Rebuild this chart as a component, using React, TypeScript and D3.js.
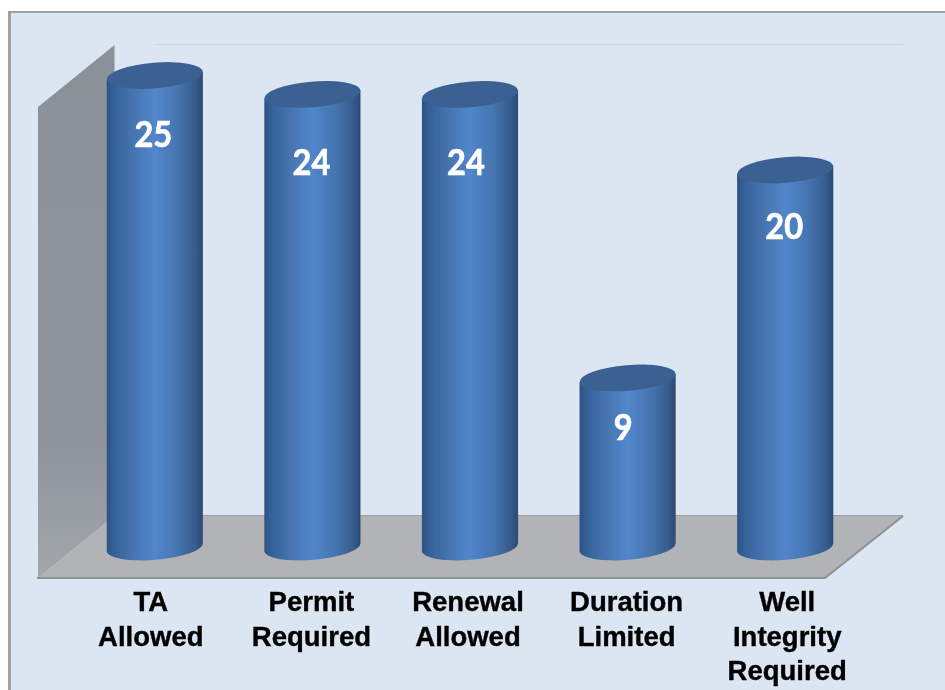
import React from "react";
import * as d3 from "d3";

const categories = ["TA Allowed", "Permit Required", "Renewal Allowed", "Duration Limited", "Well Integrity Required"];
const values = [25, 24, 24, 9, 20];
const categoryLines = [["TA", "Allowed"], ["Permit", "Required"], ["Renewal", "Allowed"], ["Duration", "Limited"], ["Well", "Integrity", "Required"]];
const labelOffsets = [-4, -1, -2, -1, 2];
const valueDy = [71.5, 80.6, 80.6, 62, 69];
const valueDx = [-1.5, -1, -4, -4.5, -1];

const W = 945, H = 690;
const x = d3.scaleBand<string>().domain(categories).range([76, 864]).paddingInner(0.39).paddingOuter(0.195);
const y = d3.scaleLinear().domain([0, 25]).range([548, 75.5]);
const RY = 12.8, TILT = -4.8;

function cylinderSide(cx: number, top: number, bottom: number, rx: number) {
  const dy = rx * Math.tan((-TILT * Math.PI) / 180);
  const p = d3.path();
  p.moveTo(cx - rx, top + dy);
  p.lineTo(cx + rx, top - dy);
  p.lineTo(cx + rx, bottom - dy);
  return `${p.toString()} A${rx} ${RY} ${TILT} 0 1 ${cx - rx} ${bottom + dy} Z`;
}

export default function App() {
  const rx = x.bandwidth() / 2;
  return (
    <svg width={W} height={H} viewBox={`0 0 ${W} ${H}`} style={{ position: "absolute", left: 0, top: 0, display: "block" }}>
      <defs>
        <linearGradient id="cyl" x1="0" x2="1" y1="0" y2="0">
          <stop offset="0" stopColor="#2d5282" />
          <stop offset="0.07" stopColor="#346097" />
          <stop offset="0.25" stopColor="#4472ad" />
          <stop offset="0.5" stopColor="#5286cb" />
          <stop offset="0.75" stopColor="#4474ae" />
          <stop offset="0.93" stopColor="#355b8b" />
          <stop offset="1" stopColor="#2b4a72" />
        </linearGradient>
        <linearGradient id="wall" x1="0" x2="0" y1="0" y2="1">
          <stop offset="0" stopColor="#8a9197" />
          <stop offset="0.75" stopColor="#8e949a" />
          <stop offset="1" stopColor="#a3a7ac" />
        </linearGradient>
        <filter id="soft" x="-5%" y="-5%" width="110%" height="110%">
          <feGaussianBlur stdDeviation="0.55" />
        </filter>
      </defs>
      <rect width={W} height={H} fill="#ffffff" />
      <g filter="url(#soft)">
        <rect x={8} y={11} width={W} height={H} fill="#a0a0a0" />
        <rect x={11} y={13} width={W} height={H} fill="#dce6f2" />
        <line x1={155} x2={903} y1={44.5} y2={44.5} stroke="#cdd7e4" strokeWidth={1} />
        <polygon points="38,107 114.5,45 114.5,516 38,578" fill="url(#wall)" />
        <polygon points="38,578 825,578 903,516 114,516" fill="#b1b3b6" />
        <line x1={114} x2={903} y1={515.5} y2={515.5} stroke="#9c9ea1" strokeWidth={1} />
        <polyline points="37,578 825,578 903,516" fill="none" stroke="#8f9092" strokeWidth={2} />
        {categories.map((c, i) => {
          const cx = x(c)! + rx;
          const top = y(values[i]);
          return (
            <g key={c}>
              <path d={cylinderSide(cx, top, y(0) - 1, rx)} fill="url(#cyl)" />
              <ellipse cx={0} cy={0} rx={rx} ry={RY} fill="#3a6192" transform={`translate(${cx},${top}) rotate(${TILT})`} />
            </g>
          );
        })}
      </g>
      <g filter="url(#soft)">
        {categories.map((c, i) => {
          const cx = x(c)! + rx + valueDx[i];
          return (
            <text key={c} transform={`translate(${cx},${y(values[i]) + valueDy[i]}) scale(0.88,1)`} textAnchor="middle" fill="#ffffff" stroke="#ffffff" strokeWidth={0.7}
              fontFamily="Lato, sans-serif" fontWeight={700} fontSize={37}>
              {values[i]}
            </text>
          );
        })}
        {categories.map((c, i) => {
          const cx = x(c)! + rx + labelOffsets[i];
          return categoryLines[i].map((t, j) => (
            <text key={t} x={cx} y={611.3 + j * 34.5} textAnchor="middle" fill="#000000" stroke="#000000" strokeWidth={0.4}
              fontFamily="'Liberation Sans', Arial, sans-serif" fontWeight={700} fontSize={27.5}>
              {t}
            </text>
          ));
        })}
      </g>
    </svg>
  );
}
